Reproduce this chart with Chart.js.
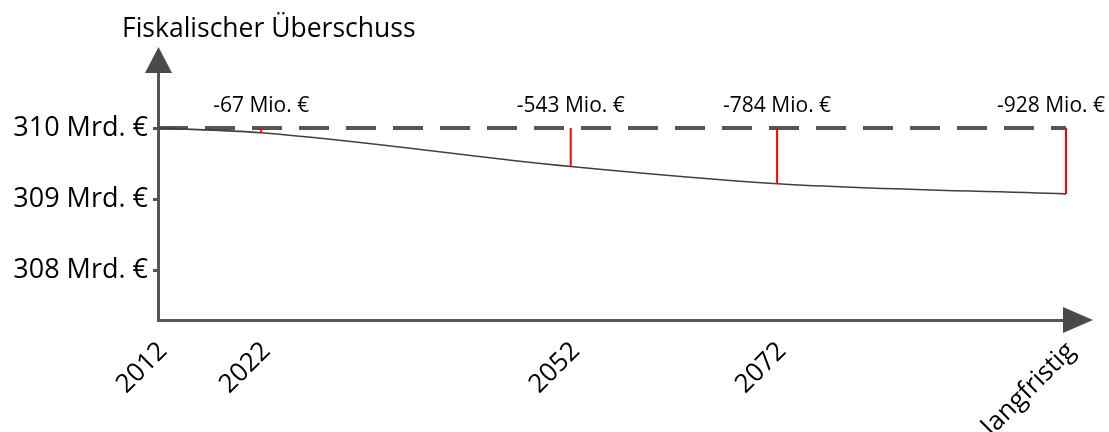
<!DOCTYPE html>
<html>
<head>
<meta charset="utf-8">
<script src="https://cdn.jsdelivr.net/npm/chart.js@4/dist/chart.umd.min.js"></script>
<style>
  html, body { margin: 0; padding: 0; background: #fff; }
  #wrap { width: 1109px; height: 432px; }
</style>
</head>
<body>
<div id="wrap"><canvas id="c" width="1109" height="432"></canvas></div>
<script>
// Zeitpunkte und ihre Lage auf der Zeitachse ("langfristig" sitzt bei 2100)
const zeitpunkte = ['2012', '2022', '2052', '2072', 'langfristig'];
const zeitachse = [2012, 2022, 2052, 2072, 2100];
// Fiskalischer Überschuss im Ausgangsjahr (Mrd. €) und Abweichungen davon (Mio. €)
const ausgangswert = 310;
const differenzMio = [0, -67, -543, -784, -928];
// Beschriftete Werte der y-Achse (Mrd. €)
const yTicks = [308, 309, 310];
const titel = 'Fiskalischer Überschuss';

const FONT = '"Open Sans", "DejaVu Sans", sans-serif';
const AXIS = '#555555';

const verlauf = zeitachse.map((x, i) => ({ x, y: ausgangswert + differenzMio[i] / 1000 }));
const basis = zeitachse.map(x => ({ x, y: ausgangswert }));

// je eine rote Senkrechte zwischen Ausgangsniveau und Verlauf
const abstaende = zeitachse.slice(1).map((x, k) => ({
  data: [{ x, y: ausgangswert }, { x, y: ausgangswert + differenzMio[k + 1] / 1000 }],
  borderColor: '#ff0000',
  borderWidth: 2,
  pointRadius: 0,
  tension: 0,
  clip: 6
}));

const deko = {
  id: 'deko',
  afterDraw(chart) {
    const { ctx, chartArea: a, scales: { x, y } } = chart;
    ctx.save();
    // Pfeilspitzen der Achsen
    ctx.fillStyle = '#4a4a4a';
    const ax = a.left + 0.5;
    ctx.beginPath();
    ctx.moveTo(ax, a.top - 25);
    ctx.lineTo(ax - 13.5, a.top + 1);
    ctx.lineTo(ax + 13.5, a.top + 1);
    ctx.closePath();
    ctx.fill();
    ctx.beginPath();
    ctx.moveTo(a.right + 27, a.bottom);
    ctx.lineTo(a.right - 3, a.bottom - 13);
    ctx.lineTo(a.right - 3, a.bottom + 13);
    ctx.closePath();
    ctx.fill();

    // Achsentitel
    ctx.fillStyle = '#000';
    ctx.font = '26.5px ' + FONT;
    ctx.textAlign = 'left';
    ctx.textBaseline = 'alphabetic';
    ctx.fillText(titel, 122, 37);

    // Abweichungen über den Senkrechten
    ctx.font = '21px ' + FONT;
    const yText = y.getPixelForValue(ausgangswert) - 16;
    zeitachse.forEach((v, i) => {
      if (i === 0) return;
      const txt = differenzMio[i] + ' Mio. €';
      const w = ctx.measureText(txt).width;
      let cx = x.getPixelForValue(v);
      cx = Math.min(cx, chart.width - 4 - w / 2);
      ctx.textAlign = 'center';
      ctx.fillText(txt, cx, yText);
    });
    ctx.restore();
  }
};

new Chart(document.getElementById('c'), {
  type: 'line',
  data: {
    datasets: [
      ...abstaende,
      {
        data: verlauf,
        borderColor: '#404040',
        borderWidth: 1.6,
        pointRadius: 0,
        cubicInterpolationMode: 'monotone'
      },
      {
        data: basis,
        borderColor: AXIS,
        borderWidth: 4,
        borderDash: [30, 17],
        borderCapStyle: 'butt',
        pointRadius: 0,
        tension: 0
      }
    ]
  },
  options: {
    responsive: false,
    devicePixelRatio: 1,
    animation: false,
    layout: { padding: { top: 72, right: 43, left: 0, bottom: 0 } },
    plugins: { legend: { display: false }, tooltip: { enabled: false }, title: { display: false } },
    scales: {
      x: {
        type: 'linear',
        min: zeitachse[0],
        max: zeitachse[zeitachse.length - 1],
        offset: false,
        grid: { display: false, drawTicks: false, offset: false },
        border: { display: true, color: AXIS, width: 3 },
        afterBuildTicks: s => { s.ticks = zeitachse.map(v => ({ value: v })); },
        afterFit: s => { s.height = 112; },
        ticks: {
          autoSkip: false,
          minRotation: 45,
          maxRotation: 45,
          padding: 16,
          labelOffset: 5,
          color: '#000',
          font: { family: FONT, size: 26 },
          callback: v => zeitpunkte[zeitachse.indexOf(v)]
        }
      },
      y: {
        type: 'linear',
        min: 307.296,
        max: 310.789,
        grid: { drawOnChartArea: false, drawTicks: true, tickLength: 5, lineWidth: 3, color: AXIS },
        border: { display: true, color: AXIS, width: 3 },
        afterBuildTicks: s => { s.ticks = yTicks.map(v => ({ value: v })); },
        afterFit: s => { s.width = 158; },
        ticks: {
          padding: 5,
          color: '#000',
          font: { family: FONT, size: 27 },
          callback: v => v + ' Mrd. €'
        }
      }
    }
  },
  plugins: [deko]
});
</script>
</body>
</html>
